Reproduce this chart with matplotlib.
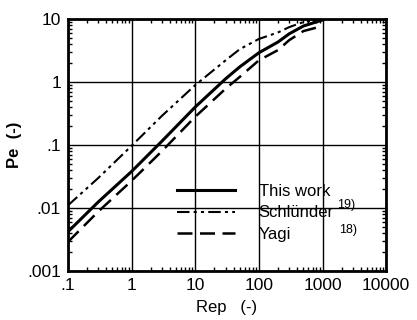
import numpy as np
import matplotlib
matplotlib.use('Agg')
import matplotlib.pyplot as plt
from matplotlib.ticker import LogLocator, FixedLocator, FixedFormatter, NullFormatter

plt.rcParams['font.family'] = ['Liberation Sans', 'DejaVu Sans']

# valores
re = [0.1, 0.3, 1, 3, 10, 30, 50, 100, 200, 300, 500, 1000]
pe_este = [0.0042, 0.0125, 0.038, 0.115, 0.40, 1.12, 1.73, 2.9, 4.3, 5.8, 7.7, 9.6]
pe_schlunder = [0.011, 0.03, 0.097, 0.29, 0.89, 2.2, 3.3, 4.8, 6.1, 7.4, 8.9, 10.0]
pe_yagi = [0.0029, 0.0088, 0.027, 0.08, 0.28, 0.78, 1.2, 2.2, 3.2, 4.6, 6.4, 7.7]

xticks = [0.1, 1, 10, 100, 1000, 10000]
xlabels = ['.1', '1', '10', '100', '1000', '10000']
yticks = [0.001, 0.01, 0.1, 1, 10]
ylabels = ['.001', '.01', '.1', '1', '10']

fig = plt.figure(figsize=(4.17, 3.20), dpi=100)
ax = fig.add_axes([0.163, 0.153, 0.763, 0.788])

ax.plot(re, pe_este, color='black', lw=2.2, label='This work')
ax.plot(re, pe_schlunder, color='black', lw=1.5, dashes=(6, 2, 1.5, 2, 1.5, 2),
        label='Schlünder')
ax.plot(re, pe_yagi, color='black', lw=1.8, dashes=(6, 3), label='Yagi')

ax.set_xscale('log')
ax.set_yscale('log')
ax.set_xlim(0.1, 10000)
ax.set_ylim(0.001, 10)

ax.xaxis.set_major_locator(FixedLocator(xticks))
ax.xaxis.set_major_formatter(FixedFormatter(xlabels))
ax.yaxis.set_major_locator(FixedLocator(yticks))
ax.yaxis.set_major_formatter(FixedFormatter(ylabels))
ax.xaxis.set_minor_locator(LogLocator(base=10, subs=np.arange(2, 10)))
ax.yaxis.set_minor_locator(LogLocator(base=10, subs=np.arange(2, 10)))
ax.xaxis.set_minor_formatter(NullFormatter())
ax.yaxis.set_minor_formatter(NullFormatter())

ax.grid(True, which='major', color='black', lw=1.0)
ax.tick_params(which='both', direction='in', top=True, right=True, labelsize=12.5)
ax.tick_params(which='major', length=0, pad=5)
ax.tick_params(which='minor', length=3, width=1)
for sp in ax.spines.values():
    sp.set_linewidth(2)

ax.set_xlabel('Rep   (-)', fontsize=12, labelpad=5)
ax.set_ylabel('Pe  (-)', fontsize=12, fontweight='bold', labelpad=4)

leg = ax.legend(loc='upper left', bbox_to_anchor=(0.343, 0.345), frameon=False,
                fontsize=12, handlelength=3.5, handletextpad=1.4,
                labelspacing=0.38, borderpad=0, borderaxespad=0)
ax.text(0.845, 0.262, '19)', transform=ax.transAxes, fontsize=9, va='center')
ax.text(0.853, 0.163, '18)', transform=ax.transAxes, fontsize=9, va='center')

fig.savefig('out.png', dpi=100)
